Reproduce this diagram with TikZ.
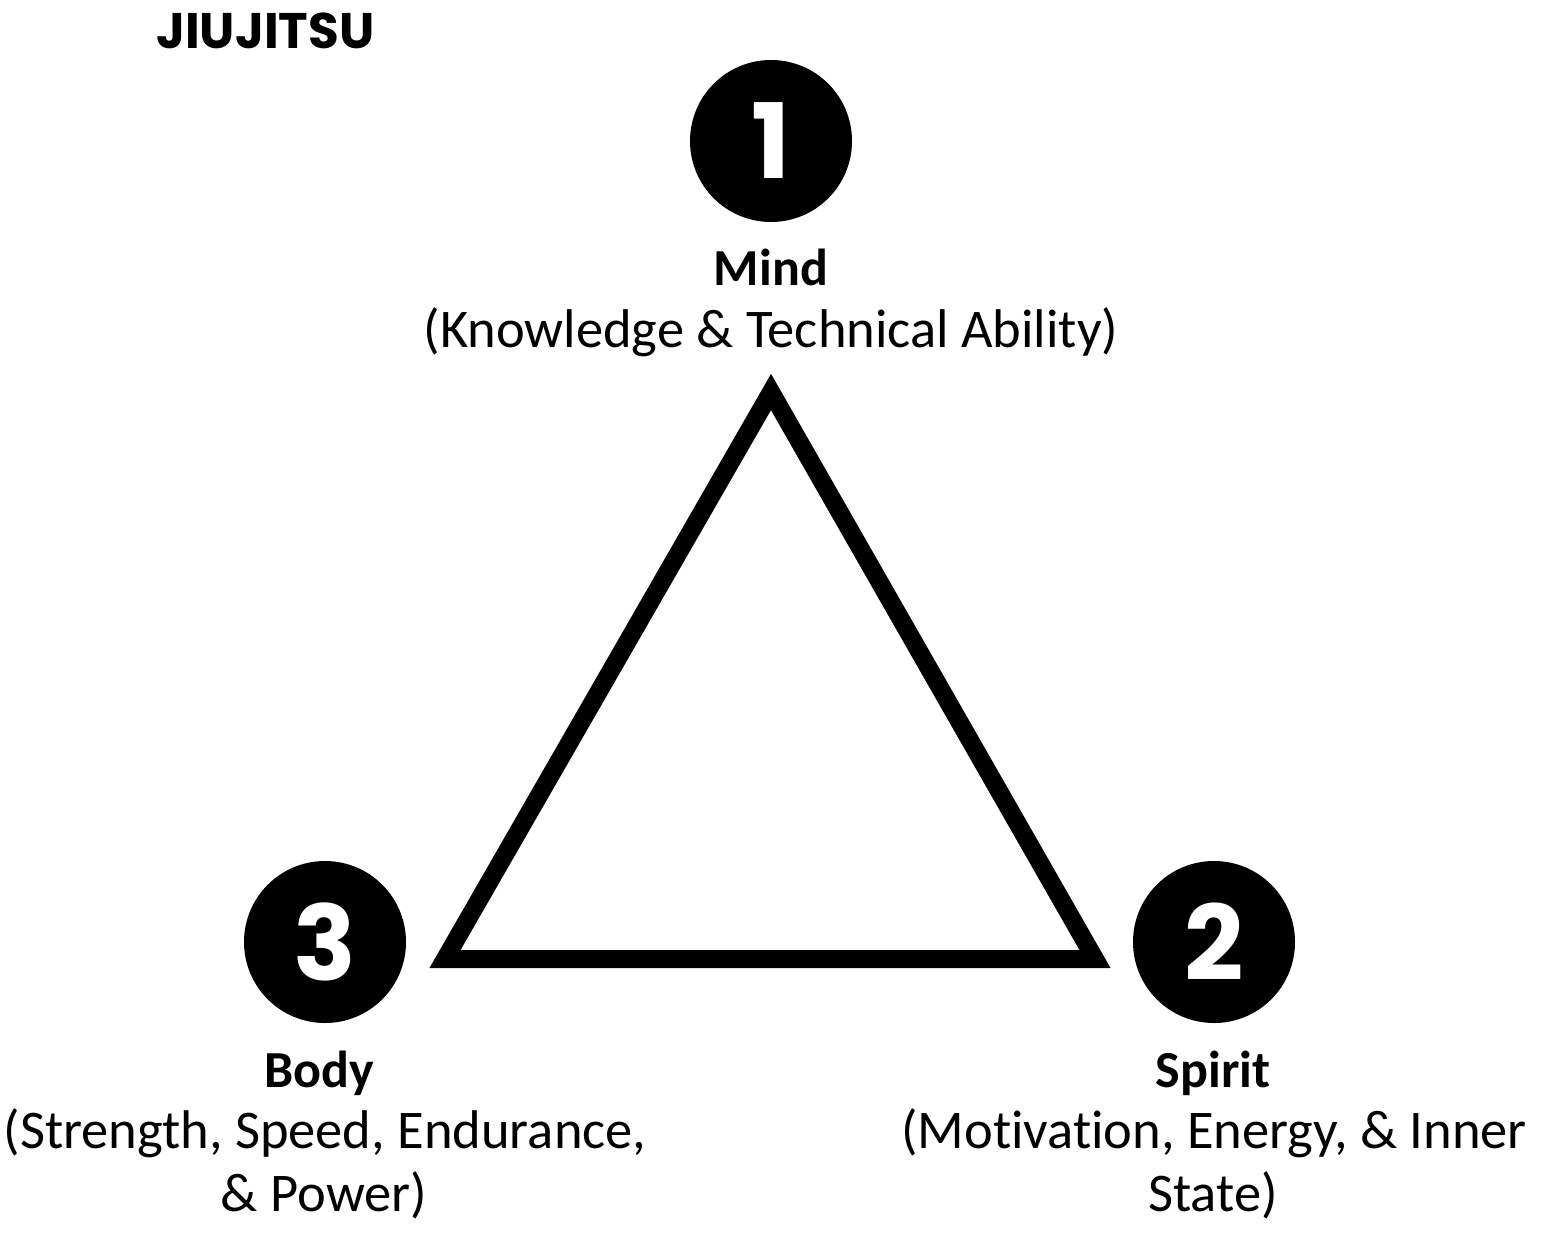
\documentclass[tikz,border=0pt]{standalone}
\usepackage{fontspec}
\setmainfont{Carlito}[Ligatures=NoCommon]
\newfontfamily\numfont{Poppins}

\tikzset{
  numdisc/.style={circle, fill=black, minimum size=162pt, inner sep=0pt,
    text=white, font=\numfont\bfseries\fontsize{104}{104}\selectfont},
  headtxt/.style={anchor=base, inner sep=0pt, font=\bfseries\fontsize{52}{60}\selectfont},
  subtxt/.style={anchor=base, inner sep=0pt, font=\fontsize{54.5}{60}\selectfont},
}

\begin{document}
\begin{tikzpicture}[x=1pt, y=-1pt]
        \useasboundingbox[fill=white] (0,0) rectangle (1563,1250);

        % Title
        \node[anchor=base west, inner sep=0pt, font=\numfont\bfseries\fontsize{50}{52}\selectfont]
          (title) at (156,48) {JIUJITSU};

        % The triangle
        \coordinate (apex) at (771,392);
        \coordinate (left) at (445,959);
        \coordinate (right) at (1095,959);
        \draw[line width=18pt, line join=miter] (apex) -- (right) -- (left) -- cycle;

        % Numbered discs
        \node[numdisc] (one) at (771,141) {1};
        \node[numdisc] (two) at (1214,942) {2};
        \node[numdisc] (three) at (325,942) {3};

        % Mind
        \node[headtxt] (mind) at (771,285) {Mind};
        \node[subtxt] (mindsub) at (771,347) {(Knowledge \& Technical Ability)};

        % Body
        \node[headtxt] (body) at (319,1087) {Body};
        \node[subtxt] (bodysuba) at (325,1148) {(Strength, Speed, Endurance,};
        \node[subtxt] (bodysubb) at (324,1211) {\& Power)};

        % Spirit
        \node[headtxt] (spirit) at (1213,1087) {Spirit};
        \node[subtxt] (spiritsuba) at (1214,1148) {(Motivation, Energy, \& Inner};
        \node[subtxt] (spiritsubb) at (1213,1211) {State)};
    \end{tikzpicture}
\end{document}
